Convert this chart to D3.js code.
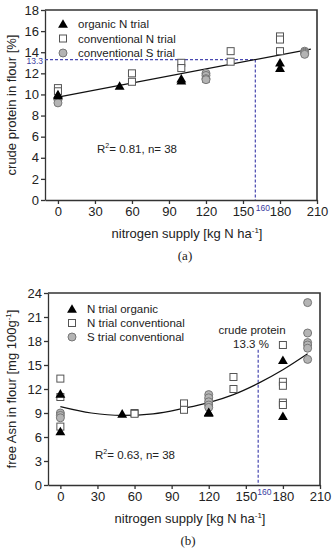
<!DOCTYPE html>
<head>
  <meta charset="utf-8">
  <script src="https://d3js.org/d3.v7.min.js"></script>
  <style>
    body { margin: 0; background: #fff; }
    text { font-family: "Liberation Sans", Arial, sans-serif; fill: #222; }
    .axis path, .axis line { stroke: #333; stroke-width: 1.3px; }
    .axis text { font-size: 13px; fill: #222; }
    .legend text { font-size: 11.5px; }
    .note { font-size: 11.5px; }
    .cap { font-family: "Liberation Serif", "DejaVu Serif", serif; font-size: 13px; }
    .blue { fill: #3a3aa0; font-size: 8.5px; }
  </style>
</head>
<body>
<script>
// ---- panel (a): crude protein in flour [%] ----
var xTicks = [0, 30, 60, 90, 120, 150, 180, 210];
var yTicksA = [0, 2, 4, 6, 8, 10, 12, 14, 16, 18];
var organicA = [[0, 9.9], [0, 10.0], [50, 10.8], [100, 11.3], [100, 11.5], [180, 12.5], [180, 13.0]];
var convNA = [[0, 10.6], [0, 10.3], [60, 12.0], [60, 11.2], [100, 13.0], [100, 12.5],
              [120, 11.7], [120, 11.5], [140, 14.1], [140, 13.1], [180, 15.5], [180, 15.2], [180, 14.1]];
var convSA = [[0, 9.5], [0, 9.2], [120, 12.0], [120, 11.8], [120, 11.5], [120, 11.4],
              [200, 14.1], [200, 14.0], [200, 13.9], [200, 13.8]];
var fitA = [[0, 9.75], [205, 14.3]];
var legendA = ["organic N trial", "conventional N trial", "conventional S trial"];

// ---- panel (b): free Asn in flour [mg 100g-1] ----
var yTicksB = [0, 3, 6, 9, 12, 15, 18, 21, 24];
var organicB = [[0, 11.4], [0, 6.7], [50, 8.9], [120, 9.0], [120, 9.1], [180, 15.6], [180, 8.6]];
var convNB = [[0, 13.3], [0, 11.0], [0, 7.3], [60, 9.0], [60, 8.9], [100, 10.2], [100, 9.4],
              [120, 10.4], [140, 13.5], [140, 12.0], [180, 17.5], [180, 12.9], [180, 12.4],
              [180, 10.3], [180, 10.0]];
var convSB = [[0, 9.0], [0, 8.7], [0, 8.4], [120, 11.3], [120, 10.9], [120, 10.4], [120, 10.0], [120, 9.7],
              [200, 22.8], [200, 19.0], [200, 17.8], [200, 17.5], [200, 17.1], [200, 15.7]];
var fitB = [[0, 9.8], [25, 9.0], [50, 8.7], [75, 8.9], [100, 9.6], [120, 10.3], [140, 11.3],
            [160, 12.7], [180, 14.4], [200, 16.4]];
var legendB = ["N trial organic", "N trial conventional", "S trial conventional"];

var width = 335, height = 550;
var svg = d3.select("body").append("svg")
  .attr("width", width)
  .attr("height", height);

var blue = "#4848b0";
var sq = 7, cr = 4, triSize = 42;

function drawPanel(p) {
  var g = svg.append("g");
  var x = d3.scaleLinear().domain([p.xMin, 210]).range([p.left, p.right]);
  var y = d3.scaleLinear().domain([0, p.yMax]).range([p.bottom, p.top]);

  // frame (top + right)
  g.append("path")
    .attr("d", "M" + p.left + "," + p.top + "H" + p.right + "V" + p.bottom)
    .attr("fill", "none").attr("stroke", "#333").attr("stroke-width", 1.6);

  g.append("g").attr("class", "axis")
    .attr("transform", "translate(0," + p.bottom + ")")
    .call(d3.axisBottom(x).tickValues(xTicks).tickSize(4).tickPadding(3).tickSizeOuter(0));
  g.append("g").attr("class", "axis")
    .attr("transform", "translate(" + p.left + ",0)")
    .call(d3.axisLeft(y).tickValues(p.yTicks).tickSize(4).tickPadding(2).tickSizeOuter(0));

  // dashed reference lines
  p.dashes.forEach(function(d) {
    g.append("line")
      .attr("x1", x(d[0])).attr("y1", y(d[1]))
      .attr("x2", x(d[2])).attr("y2", y(d[3]))
      .attr("stroke", blue).attr("stroke-width", 1.2)
      .attr("stroke-dasharray", "3,2");
  });
  g.append("text").attr("class", "blue")
    .attr("x", x(160) + p.lblDx).attr("y", p.bottom + p.lblDy)
    .text("160");

  // fit
  g.append("path")
    .datum(p.fit)
    .attr("fill", "none").attr("stroke", "#111").attr("stroke-width", 1.2)
    .attr("d", d3.line().x(d => x(d[0])).y(d => y(d[1])).curve(d3.curveMonotoneX));

  // points
  g.selectAll(".sq").data(p.convN).enter().append("rect")
    .attr("x", d => x(d[0]) - sq / 2).attr("y", d => y(d[1]) - sq / 2)
    .attr("width", sq).attr("height", sq)
    .attr("fill", "#fff").attr("stroke", "#555").attr("stroke-width", 1);
  g.selectAll(".ci").data(p.convS).enter().append("circle")
    .attr("cx", d => x(d[0])).attr("cy", d => y(d[1])).attr("r", cr)
    .attr("fill", "#b4b4b4").attr("stroke", "#777").attr("stroke-width", 1);
  g.selectAll(".tr").data(p.organic).enter().append("path")
    .attr("transform", d => "translate(" + x(d[0]) + "," + (y(d[1]) + 1) + ")")
    .attr("d", d3.symbol().type(d3.symbolTriangle).size(triSize))
    .attr("fill", "#000");

  // legend
  var lg = g.append("g").attr("class", "legend");
  p.legend.forEach(function(name, i) {
    var ly = p.legY + i * p.legStep;
    if (i === 0) {
      lg.append("path").attr("transform", "translate(" + p.legX + "," + (ly + 1) + ")")
        .attr("d", d3.symbol().type(d3.symbolTriangle).size(triSize)).attr("fill", "#000");
    } else if (i === 1) {
      lg.append("rect").attr("x", p.legX - sq / 2).attr("y", ly - sq / 2).attr("width", sq).attr("height", sq)
        .attr("fill", "#fff").attr("stroke", "#555");
    } else {
      lg.append("circle").attr("cx", p.legX).attr("cy", ly).attr("r", cr)
        .attr("fill", "#b4b4b4").attr("stroke", "#777");
    }
    lg.append("text").attr("x", p.legX + 15).attr("y", ly + 4).text(name);
  });

  // R2 note
  var r = g.append("text").attr("class", "note").attr("x", p.noteX).attr("y", p.noteY);
  r.append("tspan").text("R");
  r.append("tspan").attr("dy", -5).attr("font-size", "7px").text("2");
  r.append("tspan").attr("dy", 5).text("= " + p.r2 + ", n= 38");

  // axis titles
  var xl = g.append("text").attr("text-anchor", "middle")
    .attr("x", (p.left + p.right) / 2 + 6).attr("y", p.bottom + 38).attr("font-size", "13px");
  xl.append("tspan").text("nitrogen supply [kg N ha");
  xl.append("tspan").attr("dy", -5).attr("font-size", "8px").text("-1");
  xl.append("tspan").attr("dy", 5).text("]");

  var yl = g.append("text").attr("text-anchor", "middle").attr("font-size", "13px")
    .attr("transform", "translate(16," + ((p.top + p.bottom) / 2) + ") rotate(-90)");
  yl.append("tspan").text(p.yTitle);
  if (p.yTitleSup) {
    yl.append("tspan").attr("dy", -5).attr("font-size", "8px").text(p.yTitleSup);
    yl.append("tspan").attr("dy", 5).text("]");
  }

  g.append("text").attr("class", "cap").attr("text-anchor", "middle")
    .attr("x", (p.left + p.right) / 2 + 4).attr("y", p.bottom + 60).text(p.caption);

  return { g: g, x: x, y: y };
}

var a = drawPanel({
  left: 45, right: 317, top: 10, bottom: 200, xMin: -10.5, yMax: 18, yTicks: yTicksA,
  organic: organicA, convN: convNA, convS: convSA, fit: fitA, legend: legendA,
  legX: 63, legY: 24, legStep: 14.5, noteX: 97, noteY: 153, r2: "0.81",
  dashes: [[-10.5, 13.3, 160, 13.3], [160, 13.3, 160, 0]], lblDx: 0.5, lblDy: 11,
  yTitle: "crude protein in flour [%]", caption: "(a)"
});
a.g.append("text").attr("class", "blue").attr("text-anchor", "end")
  .attr("x", 43).attr("y", a.y(13.3) + 4).text("13.3");

var b = drawPanel({
  left: 48, right: 320, top: 293, bottom: 485, xMin: -10, yMax: 24, yTicks: yTicksB,
  organic: organicB, convN: convNB, convS: convSB, fit: fitB, legend: legendB,
  legX: 72, legY: 309, legStep: 14, noteX: 95, noteY: 459, r2: "0.63",
  dashes: [[160, 16.9, 160, 0]], lblDx: -1, lblDy: 10,
  yTitle: "free Asn in flour [mg 100g", yTitleSup: "-1", caption: "(b)"
});
b.g.append("text").attr("text-anchor", "middle").attr("font-size", "11.5px")
  .attr("x", 252).attr("y", 334).text("crude protein");
b.g.append("text").attr("text-anchor", "middle").attr("font-size", "11.5px")
  .attr("x", 251).attr("y", 348).text("13.3 %");
</script>
</body>
